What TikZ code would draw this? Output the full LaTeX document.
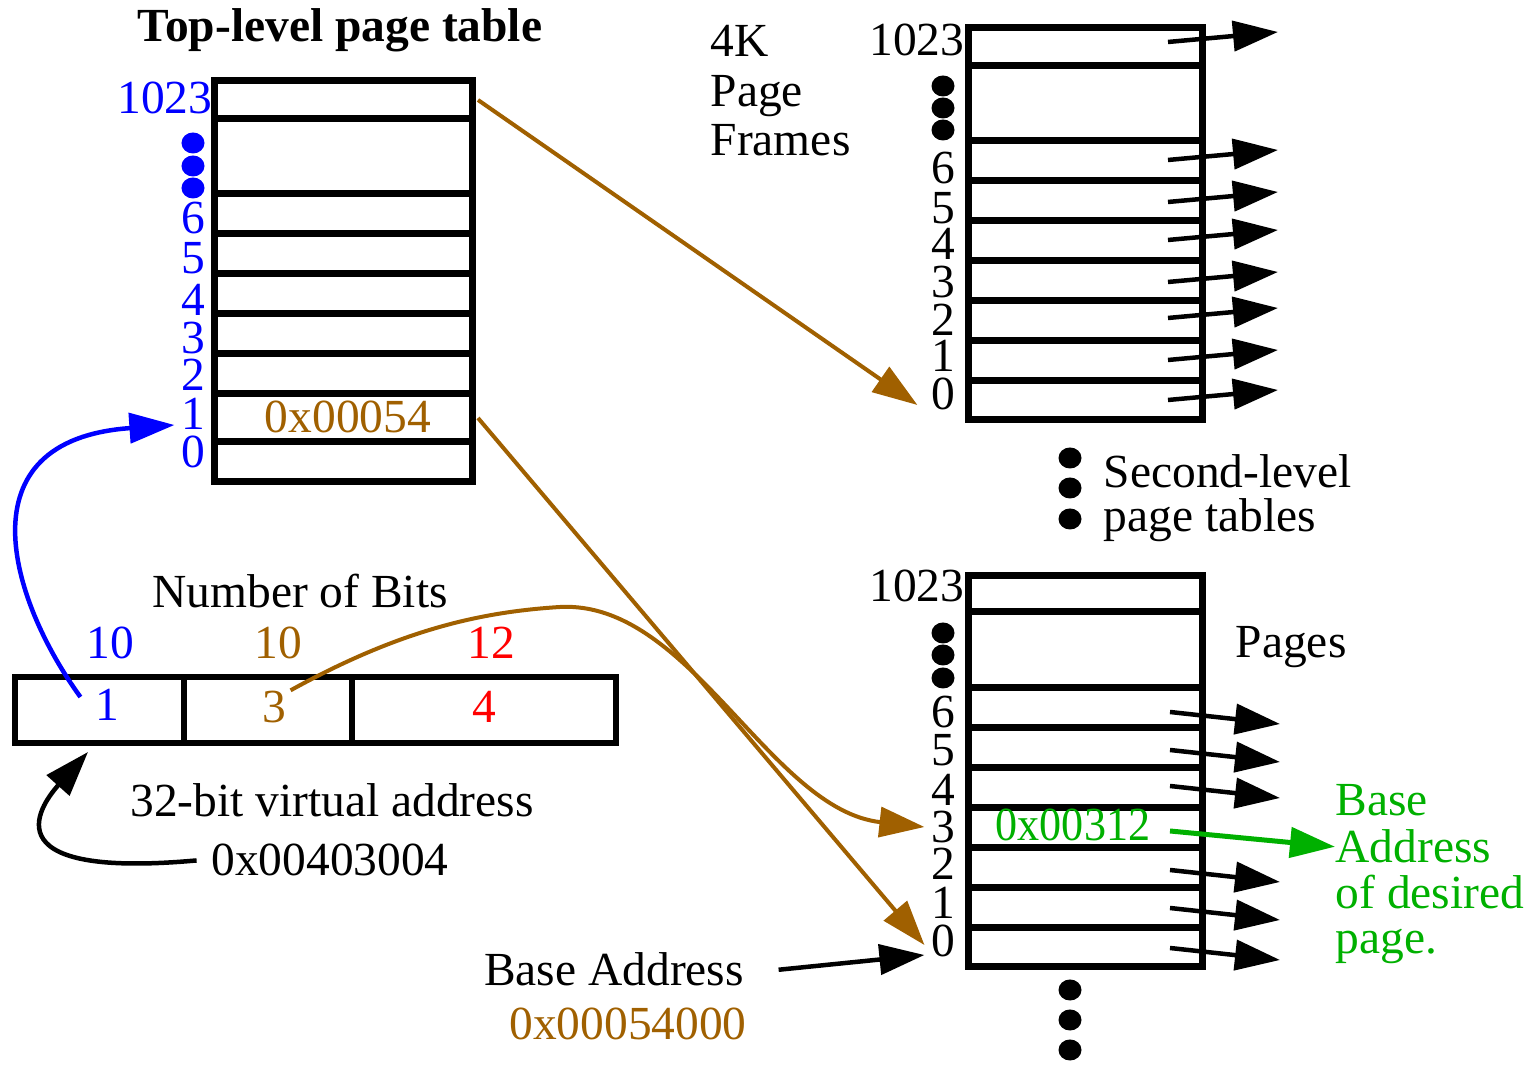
\documentclass[tikz,border=0pt]{standalone}
\usepackage{fontspec}
\setmainfont{Liberation Serif}
\usetikzlibrary{arrows.meta}
\definecolor{figbrown}{RGB}{160,96,0}
\definecolor{figgreen}{RGB}{0,176,0}
\begin{document}
\begin{tikzpicture}[x=0.01cm,y=-0.01cm,
    every node/.style={inner sep=0pt,font=\fontsize{13.5}{16}\selectfont},
    cell/.style={line width=0.7mm},
    field/.style={line width=0.55mm},
    arr/.style={line width=0.45mm,-{Triangle[length=4.5mm,width=3mm]}},
    bdot/.style={x radius=1.15mm,y radius=1.05mm}]
    \useasboundingbox (0,0) rectangle (1530,1065);

    % top-level page table
    \node[font=\fontsize{13.5}{16}\selectfont\bfseries,anchor=base] (title) at (340,42) {Top-level page table};
    \draw[cell] (214,81) rectangle (472,482);
    \foreach \y in {119,194,234,274,314,354,394,442}
        \draw[cell] (214,\y) -- (472,\y);
    \node[blue,anchor=east] (top1023) at (213,98) {1023};
    \foreach \y in {143,166,188}
        \fill[blue] (193,\y) ellipse[bdot];
    \foreach \n/\y in {6/218,5/258,4/300,3/338,2/375,1/414,0/452}
        \node[blue] (top\n) at (193,\y) {\n};
    \node[figbrown] (entry) at (348,417) {0x00054};
    \coordinate (ptr1023) at (478,100);
    \coordinate (ptr1) at (478,418);

    % page frames table
    \node[anchor=base west] (fr4k) at (710,57) {4K};
    \node[anchor=base west] (frpage) at (710,107) {Page};
    \node[anchor=base west] (frframes) at (710,156) {Frames};
    \draw[cell] (968,28) rectangle (1202,420);
    \foreach \y in {66,141,181,221,261,301,341,381}
        \draw[cell] (968,\y) -- (1202,\y);
    \node[anchor=east] (pf1023) at (965,40) {1023};
    \foreach \y in {86,108,130}
        \fill (943,\y) ellipse[bdot];
    \foreach \n/\y in {6/168,5/208,4/244,3/282,2/320,1/356,0/394}
        \node (pf\n) at (943,\y) {\n};
    \foreach \y in {42,160,202,240,282,318,360,400}
        \draw[arr] (1168,\y) -- ++(110,-10);

    % second-level tables
    \foreach \y in {458,488,519}
        \fill (1070,\y) ellipse[bdot];
    \node[anchor=base west] (second) at (1103,488) {Second-level};
    \node[anchor=base west] (tables) at (1103,532) {page tables};

    % pages table
    \draw[cell] (968,576) rectangle (1202,967);
    \foreach \y in {612,688,728,768,808,848,888,928}
        \draw[cell] (968,\y) -- (1202,\y);
    \node[anchor=east] (pg1023) at (965,586) {1023};
    \foreach \y in {633,655,678}
        \fill (943,\y) ellipse[bdot];
    \foreach \n/\y in {6/712,5/750,4/790,3/827,2/864,1/903,0/941}
        \node (pg\n) at (943,\y) {\n};
    \node[anchor=base west] (pages) at (1235,658) {Pages};
    \foreach \y in {712,750,786,870,908,948}
        \draw[arr] (1170,\y) -- ++(110,12);
    \node[figgreen,xscale=0.93] (entry2) at (1073,825) {0x00312};
    \coordinate (ptr3) at (1170,831);
    \node[figgreen,anchor=base west] (gbase) at (1335,816) {Base};
    \node[figgreen,anchor=base west] (gaddr) at (1335,863) {Address};
    \node[figgreen,anchor=base west] (gof) at (1335,909) {of desired};
    \node[figgreen,anchor=base west] (gpage) at (1335,954) {page.};
    \draw[arr,figgreen,line width=0.5mm] (ptr3) -- (gaddr.west);
    \foreach \y in {990,1020,1050}
        \fill (1070,\y) ellipse[bdot];

    % virtual address
    \node[anchor=base] (nbits) at (300,608) {Number of Bits};
    \node[blue] (bits1) at (110,643) {10};
    \node[figbrown] (bits2) at (278,643) {10};
    \node[red] (bits3) at (491,643) {12};
    \draw[field] (15,677) rectangle (616,743);
    \draw[field] (184,677) -- (184,743);
    \draw[field] (352,677) -- (352,743);
    \node[blue] (va1) at (107,705) {1};
    \node[figbrown] (va3) at (274,707) {3};
    \node[red] (va4) at (484,707) {4};
    \node[anchor=base] (vlabel) at (332,817) {32-bit virtual address};
    \node[anchor=base] (vaddr) at (330,876) {0x00403004};
    \coordinate (vabot) at (88,752);
    \node[anchor=base] (baseaddr) at (614,986) {Base Address};
    \node[figbrown,anchor=base] (basehex) at (628,1040) {0x00054000};

    % connectors
    \draw[arr,blue] ([xshift=-1.4mm,yshift=0.8mm]va1.west) .. controls (10,600) and (-40,440) .. ([xshift=-0.6mm,yshift=-1.1mm]top1.west);
    \draw[arr] ([xshift=-1.4mm]vaddr.west) .. controls (-20,880) and (45,800) .. (vabot);
    \draw[arr,figbrown,line width=0.4mm] (ptr1023) -- ([xshift=-1.3mm,yshift=-1.1mm]pf0.west);
    \draw[arr,figbrown,line width=0.4mm] (ptr1) -- ([xshift=-0.6mm,yshift=-0.4mm]pg0.west);
    \draw[arr,figbrown,line width=0.4mm] ([xshift=0.4mm]va3.north east) .. controls (400,630) and (480,612) .. (560,607)
        .. controls (690,600) and (770,810) .. ([xshift=-0.6mm]pg3.west);
    \draw[arr] ([xshift=3.4mm]baseaddr.east) -- ([xshift=-0.6mm,yshift=-1.4mm]pg0.west);
\end{tikzpicture}
\end{document}
